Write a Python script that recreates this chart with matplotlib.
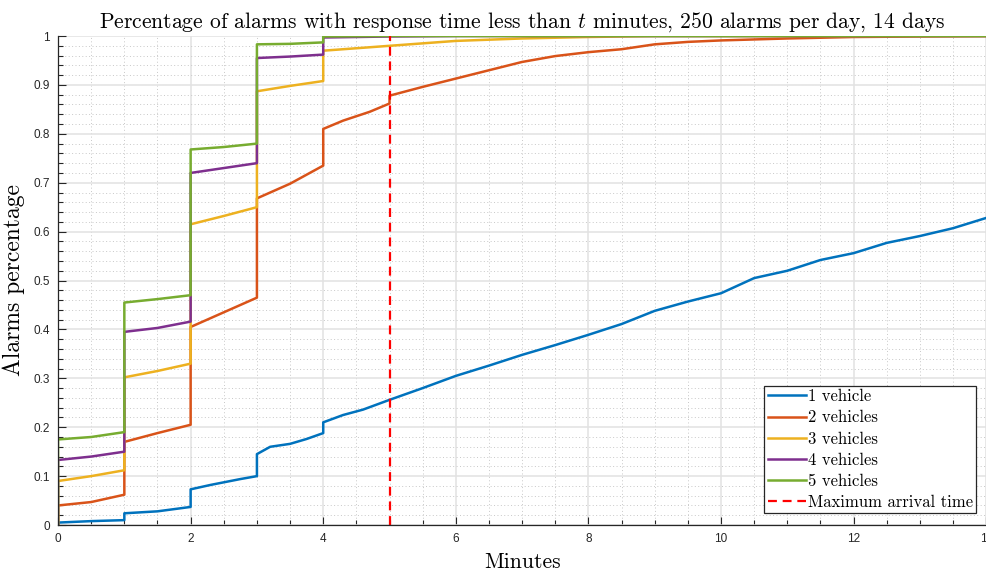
import numpy as np
import matplotlib
matplotlib.use("Agg")
import matplotlib.pyplot as plt
from matplotlib.ticker import MultipleLocator, FuncFormatter

plt.rcParams['mathtext.fontset'] = 'cm'
plt.rcParams['axes.unicode_minus'] = False

# response time curves (minutes, fraction of alarms)
x_1 = [0, 0, 0.5, 1, 1, 1.5, 2, 2, 2.3, 2.75, 3, 3, 3.2, 3.5, 3.75, 4, 4, 4.3, 4.6, 5,
       5.5, 6, 6.5, 7, 7.5, 8, 8.5, 9, 9.5, 10, 10.5, 11, 11.5, 12, 12.5, 13, 13.5, 14]
y_1 = [0, 0.005, 0.008, 0.010, 0.024, 0.028, 0.037, 0.073, 0.082, 0.094, 0.100, 0.145,
       0.160, 0.166, 0.176, 0.188, 0.210, 0.225, 0.236, 0.256, 0.280, 0.305, 0.326, 0.348,
       0.368, 0.389, 0.411, 0.438, 0.457, 0.474, 0.505, 0.520, 0.542, 0.556, 0.577, 0.591,
       0.607, 0.628]

x_2 = [0, 0, 0.5, 1, 1, 1.5, 2, 2, 2.5, 3, 3, 3.5, 4, 4, 4.3, 4.7, 5, 5, 5.5, 6, 6.5,
       7, 7.5, 8, 8.5, 9, 9.5, 10, 10.5, 11, 12, 13, 14]
y_2 = [0, 0.040, 0.047, 0.062, 0.170, 0.188, 0.205, 0.405, 0.435, 0.465, 0.668, 0.698,
       0.735, 0.810, 0.827, 0.845, 0.862, 0.878, 0.896, 0.913, 0.930, 0.947, 0.959, 0.967,
       0.973, 0.983, 0.988, 0.991, 0.993, 0.995, 0.998, 0.999, 1.0]

x_3 = [0, 0, 0.5, 1, 1, 1.5, 2, 2, 2.5, 3, 3, 3.5, 4, 4, 4.5, 5, 5.5, 6, 7, 8, 9, 14]
y_3 = [0, 0.090, 0.100, 0.112, 0.302, 0.315, 0.330, 0.615, 0.632, 0.650, 0.887, 0.898,
       0.908, 0.970, 0.975, 0.980, 0.985, 0.990, 0.995, 0.998, 1.0, 1.0]

x_4 = [0, 0, 0.5, 1, 1, 1.5, 2, 2, 2.5, 3, 3, 3.5, 4, 4, 5, 6, 14]
y_4 = [0, 0.133, 0.140, 0.150, 0.395, 0.403, 0.416, 0.720, 0.730, 0.740, 0.955, 0.958,
       0.962, 0.997, 0.999, 1.0, 1.0]

x_5 = [0, 0, 0.5, 1, 1, 1.5, 2, 2, 2.5, 3, 3, 3.5, 4, 4, 5, 14]
y_5 = [0, 0.175, 0.180, 0.190, 0.455, 0.462, 0.470, 0.768, 0.773, 0.780, 0.983, 0.984,
       0.987, 0.999, 1.0, 1.0]

series_x = [x_1, x_2, x_3, x_4, x_5]
series_y = [y_1, y_2, y_3, y_4, y_5]
labels = ["1 vehicle", "2 vehicles", "3 vehicles", "4 vehicles", "5 vehicles"]
colours = ["#0072BD", "#D95319", "#EDB120", "#7E2F8E", "#77AC30"]
max_arrival = 5

fig = plt.figure(figsize=(9.87, 5.70), dpi=100)
ax = fig.add_axes([0.0588, 0.0789, 0.9404, 0.8579])

for xs, ys, lab, col in zip(series_x, series_y, labels, colours):
    ax.plot(xs, ys, color=col, linewidth=1.8, label=lab)

ax.axvline(max_arrival, color="#FF0000", linestyle=(0, (4, 2.6)), linewidth=1.6,
           label="Maximum arrival time")

ax.set_xlim(0, 14)
ax.set_ylim(0, 1)
ax.xaxis.set_major_locator(MultipleLocator(2))
ax.xaxis.set_minor_locator(MultipleLocator(0.5))
ax.yaxis.set_major_locator(MultipleLocator(0.1))
ax.yaxis.set_minor_locator(MultipleLocator(0.02))
fmt = FuncFormatter(lambda v, p: "%g" % round(v, 6))
ax.xaxis.set_major_formatter(fmt)
ax.yaxis.set_major_formatter(fmt)

ax.grid(which='major', color="#e2e2e2", linewidth=1.1, linestyle='-')
ax.grid(which='minor', color="#c8c8c8", linewidth=0.7, linestyle=(0, (1, 2.5)))
ax.set_axisbelow(True)

for s in ['top', 'right']:
    ax.spines[s].set_visible(False)
for s in ['left', 'bottom']:
    ax.spines[s].set_color("#262626")
    ax.spines[s].set_linewidth(0.9)
ax.tick_params(which='major', direction='in', length=6, width=0.8, color="#262626",
               labelsize=8.5, labelcolor="#262626", pad=6)
ax.tick_params(which='minor', direction='in', length=3.5, width=0.8, color="#262626")
for lab in ax.get_xticklabels() + ax.get_yticklabels():
    lab.set_fontfamily("Liberation Sans")

ax.set_title("Percentage of alarms with response time less than $t$ minutes, "
             "250 alarms per day, 14 days", fontfamily="cmr10", fontsize=15.5, pad=6)
ax.set_xlabel("Minutes", fontfamily="cmr10", fontsize=15.5, labelpad=5)
ax.set_ylabel("Alarms percentage", fontfamily="cmr10", fontsize=17, labelpad=6)

leg = ax.legend(loc="lower right", bbox_to_anchor=(0.9895, 0.024),
                prop={'family': 'cmr10', 'size': 12}, fancybox=False,
                edgecolor="#262626", framealpha=1, borderpad=0.2, labelspacing=0.35,
                handlelength=2.3, handletextpad=0.12, borderaxespad=0)
leg.get_frame().set_linewidth(0.9)

fig.savefig("out.png", dpi=100)
